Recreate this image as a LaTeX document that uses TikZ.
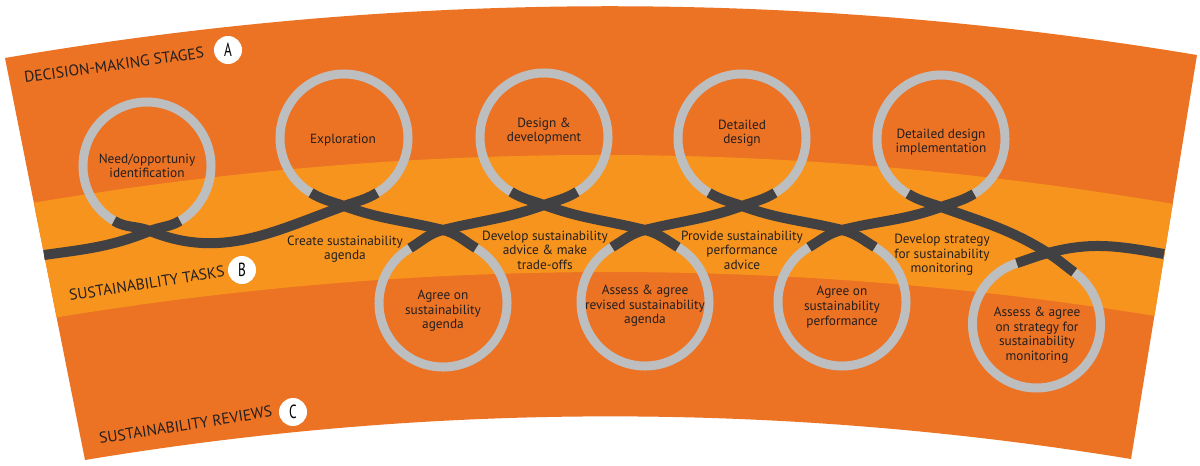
\documentclass[tikz,border=0pt]{standalone}
\usepackage{fontspec}
\setmainfont{PT Sans}
\usetikzlibrary{calc}
\definecolor{darkor}{RGB}{236,114,36}
\definecolor{lightor}{RGB}{247,148,30}
\definecolor{ringgray}{RGB}{188,190,192}
\definecolor{strandgray}{RGB}{65,64,66}
\definecolor{txt}{RGB}{35,31,32}
\tikzset{
  ringline/.style={line width=9pt, draw=ringgray},
  strand/.style={line width=10pt, draw=strandgray},
  lbl/.style={align=center, text=txt, font=\fontsize{13.3}{14.6}\selectfont, inner sep=0pt},
  head/.style={text=txt, font=\fontsize{15.5}{16}\selectfont, inner sep=0pt, anchor=base west},
  badge/.style={circle, fill=white, minimum size=28pt, inner sep=0pt, text=black, font=\fontsize{19}{19}\selectfont},
}
\begin{document}
\begin{tikzpicture}[x=1pt,y=1pt]
\useasboundingbox (0,0) rectangle (1200,-466);
\fill[white] (0,0) rectangle (1200,-466);
% outer band
\path[save path=\outer] (5,-58) .. controls (402,10) and (800,11) .. (1197,-55)
  -- (1131,-459) .. controls (782,-402) and (434,-402) .. (85,-460) -- cycle;
\fill[darkor, use path=\outer];
\begin{scope}
  \clip[use path=\outer];
  \fill[lightor] (0,-208.6) .. controls (400,-137.1) and (800,-137.1) .. (1200,-208.6)
    -- (1200,-323.5) .. controls (800,-253.7) and (400,-254.9) .. (0,-327.1) -- cycle;
\end{scope}
% circle centres
\coordinate (c1) at (147,-166);
\coordinate (c2) at (344,-138);
\coordinate (c3) at (544,-137);
\coordinate (c4) at (742,-138);
\coordinate (c5) at (941,-139);
\coordinate (d1) at (443,-303);
\coordinate (d2) at (645,-302);
\coordinate (d3) at (842,-302);
\coordinate (d4) at (1036.5,-324);
% gap ends
\foreach \c in {c1,c2,c3,c4,c5}{
  \coordinate (\c R) at ($(\c)+(-59:64pt)$);
  \coordinate (\c L) at ($(\c)+(239:64pt)$);
}
\foreach \d in {d1,d2,d3}{
  \coordinate (\d R) at ($(\d)+(59:64pt)$);
  \coordinate (\d L) at ($(\d)+(121:64pt)$);
}
\coordinate (d4R) at ($(d4)+(54:64pt)$);
\coordinate (d4L) at ($(d4)+(108:64pt)$);
% crossings and ends
\coordinate (x1) at (150,-231);
\coordinate (x2) at (344,-206);
\coordinate (x3) at (443,-230);
\coordinate (x4) at (544,-205);
\coordinate (x5) at (645,-230);
\coordinate (x6) at (742,-206);
\coordinate (x7) at (842,-230);
\coordinate (x8) at (941,-207);
\coordinate (x9) at (1048,-253);
\coordinate (S) at (44,-255);
\coordinate (E) at (1164,-254);
% rings
\foreach \c in {c1,c2,c3,c4,c5}{
  \draw[ringline] (\c R) arc[start angle=-59, end angle=239, radius=64pt];
}
\foreach \d in {d1,d2,d3}{
  \draw[ringline] (\d R) arc[start angle=59, end angle=-239, radius=64pt];
}
\draw[ringline] (d4R) arc[start angle=54, end angle=-252, radius=64pt];
% strands
\draw[strand] (S) to[out=8,in=202] (x1) to[out=22,in=211] (c1R);
\draw[strand] (c1L) to[out=-31,in=158] (x1) to[out=-22,in=200] (x2) to[out=20,in=211] (c2R);
\draw[strand] (c2L) to[out=-31,in=160] (x2) to[out=-20,in=166] (x3) to[out=-14,in=149] (d1R);
\draw[strand] (d1L) to[out=31,in=194] (x3) to[out=14,in=200] (x4) to[out=20,in=211] (c3R);
\draw[strand] (c3L) to[out=-31,in=160] (x4) to[out=-20,in=166] (x5) to[out=-14,in=149] (d2R);
\draw[strand] (d2L) to[out=31,in=194] (x5) to[out=14,in=200] (x6) to[out=20,in=211] (c4R);
\draw[strand] (c4L) to[out=-31,in=160] (x6) to[out=-20,in=166] (x7) to[out=-14,in=149] (d3R);
\draw[strand] (d3L) to[out=31,in=194] (x7) to[out=14,in=200] (x8) to[out=20,in=211] (c5R);
\draw[strand] (c5L) to[out=-31,in=160] (x8) to[out=-20,in=148] (x9) to[out=-32,in=144] (d4R);
\draw[strand] (d4L) to[out=18,in=195] (x9) to[out=15,in=170] (E);
% circle labels
\node[lbl] (t1) at (147,-166) {Need/opportuniy\\identification};
\node[lbl] (t2) at (343,-140) {Exploration};
\node[lbl] (t3) at (544,-131) {Design \&\\development};
\node[lbl] (t4) at (742,-133) {Detailed\\design};
\node[lbl] (t5) at (941,-142) {Detailed design\\implementation};
\node[lbl] (b1) at (443,-311) {Agree on\\sustainability\\agenda};
\node[lbl] (b2) at (645,-306) {Assess \& agree\\revised sustainability\\agenda};
\node[lbl] (b3) at (842,-307) {Agree on\\sustainability\\performance};
\node[lbl] (b4) at (1037,-335) {Assess \& agree\\on strategy for\\sustainability\\monitoring};
% task labels
\node[lbl] (k1) at (345,-249) {Create sustainability\\agenda};
\node[lbl] (k2) at (545,-250) {Develop sustainability\\advice \& make\\trade-offs};
\node[lbl] (k3) at (742,-250) {Provide sustainability\\performance\\advice};
\node[lbl] (k4) at (942,-255) {Develop strategy\\for sustainability\\monitoring};
% headings
\node[head, rotate=8] (hA) at (25,-83) {DECISION-MAKING STAGES};
\node[head, rotate=9] (hB) at (70,-301) {SUSTAINABILITY TASKS};
\node[head, rotate=9] (hC) at (100,-444) {SUSTAINABILITY REVIEWS};
\node[badge] (A) at (228,-50) {\scalebox{0.7}[1]{A}};
\node[badge] (B) at (242,-270) {\scalebox{0.7}[1]{B}};
\node[badge] (C) at (293,-412) {\scalebox{0.7}[1]{C}};
\end{tikzpicture}
\end{document}
